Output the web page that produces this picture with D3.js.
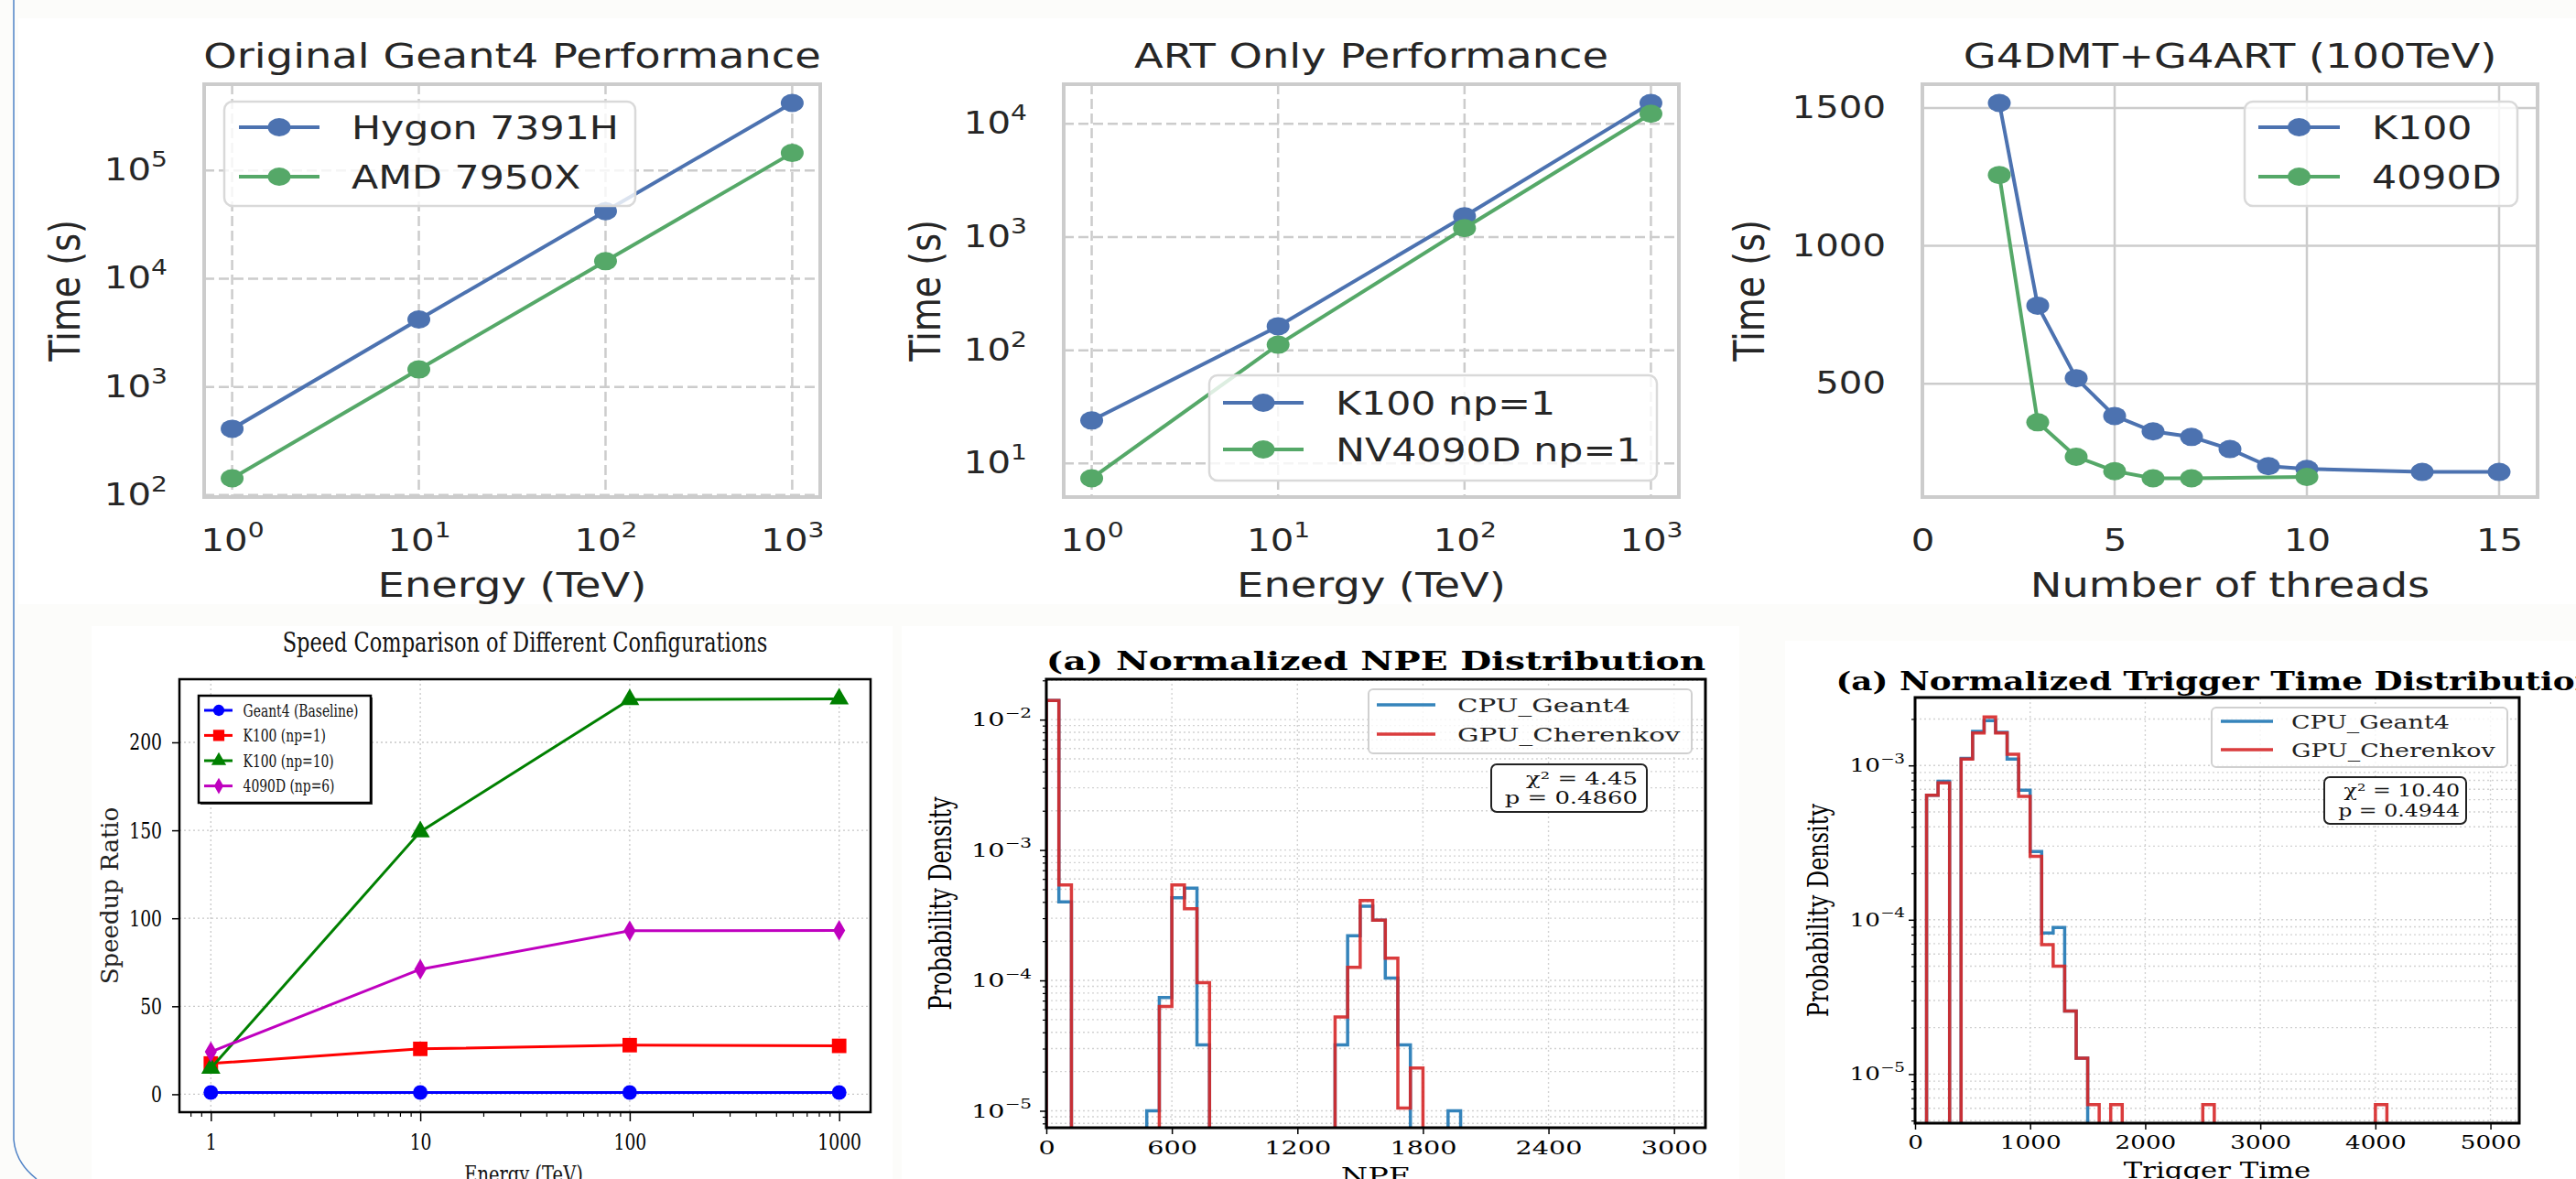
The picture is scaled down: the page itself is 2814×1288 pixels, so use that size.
<!DOCTYPE html>
<html>
<head>
<meta charset="utf-8">
<script src="https://cdn.jsdelivr.net/npm/d3@7"></script>
<style>
  body { margin: 0; background: #fcfcfa; }
  svg { display: block; }
</style>
</head>
<body>
<script>
// ---- data ----
// Original Geant4 Performance
var energyTeV = [1, 10, 100, 1000];
var hygonTime = [410, 4200, 42000, 420000];
var amdTime = [143, 1450, 14500, 145000];

// ART Only Performance
var k100Time = [24, 163, 1530, 15300];
var nv4090Time = [7.4, 112, 1200, 12300];

// G4DMT+G4ART (100TeV)
var k100Threads = [2, 3, 4, 5, 6, 7, 8, 9, 10, 13, 15];
var k100ThreadTime = [1518, 783, 520, 383, 327, 307, 263, 201, 191, 180, 180];
var gpu4090Threads = [2, 3, 4, 5, 6, 7, 10];
var gpu4090ThreadTime = [1257, 360, 235, 183, 157, 157, 162];

// Speed comparison
var speedBaseline = [1, 1, 1, 1];
var speedK100np1 = [17.5, 25.8, 27.9, 27.5];
var speedK100np10 = [14.8, 149.2, 224.3, 224.7];
var speed4090np6 = [24.1, 71, 92.9, 93.1];

// NPE histogram, bins of 60 starting at 0
var npeBinWidth = 60;
var npeCpu = [0.0140, 4.0e-4, 0, 0, 0, 0, 0, 0, 1.0e-5, 7.4e-5, 4.3e-4, 5.1e-4, 3.2e-5, 0, 0, 0, 0,
  0, 0, 0, 0, 0, 0, 3.2e-5, 2.2e-4, 3.7e-4, 2.9e-4, 1.04e-4, 3.2e-5, 0, 0, 0, 1.0e-5];
var npeGpu = [0.0140, 5.4e-4, 0, 0, 0, 0, 0, 0, 0, 6.3e-5, 5.4e-4, 3.55e-4, 9.6e-5, 0, 0, 0, 0,
  0, 0, 0, 0, 0, 0, 5.25e-5, 1.26e-4, 4.1e-4, 2.9e-4, 1.48e-4, 1.05e-5, 2.13e-5];

// Trigger time histogram, bins of 100 starting at 0
var trigBinWidth = 100;
var trigCpu = [0, 6.4e-4, 7.9e-4, 0, 1.11e-3, 1.66e-3, 1.95e-3, 1.64e-3, 1.10e-3, 6.9e-4, 2.77e-4,
  8.2e-5, 8.9e-5, 2.56e-5, 1.27e-5];
var trigGpu = [0, 6.4e-4, 7.7e-4, 0, 1.10e-3, 1.62e-3, 2.06e-3, 1.62e-3, 1.18e-3, 6.3e-4, 2.58e-4,
  6.9e-5, 5.0e-5, 2.56e-5, 1.27e-5, 6.35e-6, 0, 6.35e-6, 0, 0, 0, 0, 0, 0, 0, 6.35e-6,
  0, 0, 0, 0, 0, 0, 0, 0, 0, 0, 0, 0, 0, 0, 6.35e-6];

// tick values
var energyTicks = [1, 10, 100, 1000];
var g4TimeTicks = [100, 1000, 10000, 100000];
var artTimeTicks = [10, 100, 1000, 10000];
var threadTicks = [0, 5, 10, 15];
var threadTimeTicks = [500, 1000, 1500];
var speedTicks = [0, 50, 100, 150, 200];
var npeTicks = [0, 600, 1200, 1800, 2400, 3000];
var npeDensityTicks = [1e-5, 1e-4, 1e-3, 1e-2];
var trigTicks = [0, 1000, 2000, 3000, 4000, 5000];
var trigDensityTicks = [1e-5, 1e-4, 1e-3];

var SANS = "DejaVu Sans", SERIF = "DejaVu Serif";
var BLUE = "#4c72b0", GREEN = "#55a868";

var svg = d3.select("body").append("svg").attr("width", 2814).attr("height", 1288);

// page background and pasted figure areas
svg.append("rect").attr("width", 2814).attr("height", 1288).attr("fill", "#fcfcfa");
[[20, 20, 2794, 640], [100, 684, 875, 604], [985, 684, 915, 604], [1950, 700, 864, 588]].forEach(function(r) {
  svg.append("rect").attr("x", r[0]).attr("y", r[1]).attr("width", r[2]).attr("height", r[3]).attr("fill", "#ffffff");
});
svg.append("path").attr("d", "M15,0 L15,1245 Q17,1270 40,1288")
  .attr("fill", "none").attr("stroke", "#4f82c6").attr("stroke-width", 1.5);

// ---- helpers ----
function textAt(g, x, y, s, o) {
  var tr = "translate(" + x + "," + y + ") scale(" + (o.sx || 1) + ",1)" + (o.rotate ? " rotate(-90)" : "");
  return g.append("text").attr("transform", tr)
    .attr("text-anchor", o.anchor || "middle")
    .style("font-family", o.font).style("font-size", o.size + "px")
    .style("font-weight", o.bold ? "bold" : "normal")
    .attr("fill", o.color || "#262626")
    .text(s);
}

function powExp(d) {
  var e = Math.round(Math.log10(d));
  return e < 0 ? "\u2212" + (-e) : "" + e;
}

function styleTicks(axisG, o) {
  axisG.select(".domain").remove();
  axisG.selectAll(".tick line").attr("stroke", o.tickColor || "#000").attr("stroke-width", o.tickWidth || 1.5);
  axisG.selectAll(".tick text").each(function(d) {
    var t = d3.select(this);
    var xx = +t.attr("x") || 0;
    t.attr("x", 0).attr("transform", "translate(" + xx + ",0) scale(" + o.sx + ",1)")
      .style("font-family", o.font).style("font-size", o.size + "px").attr("fill", o.color);
    if (o.pow) {
      t.text(null);
      t.append("tspan").text("10");
      t.append("tspan").attr("dy", -0.46 * o.size).style("font-size", (0.7 * o.size) + "px").text(powExp(d));
    }
  });
}

function logPad(vals) {
  var e = d3.extent(vals).map(Math.log10), m = (e[1] - e[0]) * 0.05;
  return [Math.pow(10, e[0] - m), Math.pow(10, e[1] + m)];
}
function linPad(vals) {
  var e = d3.extent(vals), m = (e[1] - e[0]) * 0.05;
  return [e[0] - m, e[1] + m];
}

// ---- top row: seaborn style line charts ----
var SX_TOP = 1.22;

function drawTimePanel(p) {
  var g = svg.append("g");
  var x = p.x.range([p.left, p.right]);
  var y = p.y.range([p.bottom, p.top]);

  var grid = g.append("g").attr("stroke", "#cccccc").attr("stroke-width", 2.5)
    .attr("stroke-dasharray", p.dashed ? "11,5" : null);
  grid.selectAll(null).data(p.xTicks).enter().append("line")
    .attr("x1", d => x(d)).attr("x2", d => x(d)).attr("y1", p.top).attr("y2", p.bottom);
  grid.selectAll(null).data(p.yTicks).enter().append("line")
    .attr("y1", d => y(d)).attr("y2", d => y(d)).attr("x1", p.left).attr("x2", p.right);

  g.append("rect").attr("x", p.left).attr("y", p.top)
    .attr("width", p.right - p.left).attr("height", p.bottom - p.top)
    .attr("fill", "none").attr("stroke", "#cccccc").attr("stroke-width", 4);

  var ax = g.append("g").attr("transform", "translate(0," + p.bottom + ")")
    .call(d3.axisBottom(x).tickValues(p.xTicks).tickSize(0).tickPadding(36).tickFormat(d3.format("d")));
  styleTicks(ax, { font: SANS, size: 33, sx: SX_TOP, color: "#262626", pow: p.xPow });
  var ay = g.append("g").attr("transform", "translate(" + p.left + ",0)")
    .call(d3.axisLeft(y).tickValues(p.yTicks).tickSize(0).tickPadding(40).tickFormat(d3.format("d")));
  styleTicks(ay, { font: SANS, size: 33, sx: SX_TOP, color: "#262626", pow: p.yPow });

  p.series.forEach(function(s) {
    var line = d3.line().x((d, i) => x(s.xs[i])).y(d => y(d));
    g.append("path").datum(s.ys).attr("d", line)
      .attr("fill", "none").attr("stroke", s.color).attr("stroke-width", 4);
    g.selectAll(null).data(s.ys).enter().append("ellipse")
      .attr("cx", (d, i) => x(s.xs[i])).attr("cy", d => y(d))
      .attr("rx", 12.5).attr("ry", 10).attr("fill", s.color);
  });

  var L = p.legend;
  g.append("rect").attr("x", L.x0).attr("y", L.y0).attr("width", L.x1 - L.x0).attr("height", L.y1 - L.y0)
    .attr("rx", 9).attr("fill", "#ffffff").attr("fill-opacity", 0.8)
    .attr("stroke", "#d9d9d9").attr("stroke-width", 2.5);
  p.series.forEach(function(s, i) {
    var yy = L.rows[i];
    g.append("line").attr("x1", L.lx0).attr("x2", L.lx1).attr("y1", yy).attr("y2", yy)
      .attr("stroke", s.color).attr("stroke-width", 4);
    g.append("ellipse").attr("cx", (L.lx0 + L.lx1) / 2).attr("cy", yy).attr("rx", 12.5).attr("ry", 10).attr("fill", s.color);
    textAt(g, L.tx, yy + 12.8, s.name, { font: SANS, size: 35, sx: SX_TOP, anchor: "start" });
  });

  var cx = (p.left + p.right) / 2;
  textAt(g, cx, 74, p.title, { font: SANS, size: 38, sx: SX_TOP });
  textAt(g, cx, 652, p.xLabel, { font: SANS, size: 38, sx: SX_TOP });
  textAt(g, p.yLabelX, (p.top + p.bottom) / 2, "Time (s)", { font: SANS, size: 38, sx: SX_TOP, rotate: true });
}

drawTimePanel({
  left: 223, right: 896, top: 92, bottom: 543, dashed: true,
  x: d3.scaleLog().domain(logPad(energyTeV)), y: d3.scaleLog().domain(logPad(hygonTime.concat(amdTime))),
  xTicks: energyTicks, yTicks: g4TimeTicks, xPow: true, yPow: true,
  title: "Original Geant4 Performance", xLabel: "Energy (TeV)", yLabelX: 87,
  series: [
    { name: "Hygon 7391H", xs: energyTeV, ys: hygonTime, color: BLUE },
    { name: "AMD 7950X", xs: energyTeV, ys: amdTime, color: GREEN }
  ],
  legend: { x0: 245, x1: 694, y0: 111, y1: 225, rows: [139, 193], lx0: 261, lx1: 349, tx: 384 }
});

drawTimePanel({
  left: 1162, right: 1834, top: 92, bottom: 543, dashed: true,
  x: d3.scaleLog().domain(logPad(energyTeV)), y: d3.scaleLog().domain(logPad(k100Time.concat(nv4090Time))),
  xTicks: energyTicks, yTicks: artTimeTicks, xPow: true, yPow: true,
  title: "ART Only Performance", xLabel: "Energy (TeV)", yLabelX: 1027,
  series: [
    { name: "K100 np=1", xs: energyTeV, ys: k100Time, color: BLUE },
    { name: "NV4090D np=1", xs: energyTeV, ys: nv4090Time, color: GREEN }
  ],
  legend: { x0: 1321, x1: 1810, y0: 410, y1: 525, rows: [440, 491], lx0: 1336, lx1: 1424, tx: 1459 }
});

drawTimePanel({
  left: 2100, right: 2772, top: 92, bottom: 543, dashed: false,
  x: d3.scaleLinear().domain([0, 16]), y: d3.scaleLinear().domain(linPad(k100ThreadTime.concat(gpu4090ThreadTime))),
  xTicks: threadTicks, yTicks: threadTimeTicks, xPow: false, yPow: false,
  title: "G4DMT+G4ART (100TeV)", xLabel: "Number of threads", yLabelX: 1927,
  series: [
    { name: "K100", xs: k100Threads, ys: k100ThreadTime, color: BLUE },
    { name: "4090D", xs: gpu4090Threads, ys: gpu4090ThreadTime, color: GREEN }
  ],
  legend: { x0: 2452, x1: 2750, y0: 111, y1: 225, rows: [139, 193], lx0: 2467, lx1: 2556, tx: 2591 }
});

// ---- bottom left: speed comparison ----
(function() {
  var SX = 0.75;
  var left = 196, right = 951, top = 742, bottom = 1215;
  var g = svg.append("g");
  var x = d3.scaleLog().domain(logPad(energyTeV)).range([left, right]);
  var y = d3.scaleLinear().domain(linPad(speedBaseline.concat(speedK100np1, speedK100np10, speed4090np6))).range([bottom, top]);

  var grid = g.append("g").attr("stroke", "#c8c8c8").attr("stroke-width", 1.3).attr("stroke-dasharray", "2,3");
  grid.selectAll(null).data(energyTicks).enter().append("line")
    .attr("x1", d => x(d)).attr("x2", d => x(d)).attr("y1", top).attr("y2", bottom);
  grid.selectAll(null).data(speedTicks).enter().append("line")
    .attr("y1", d => y(d)).attr("y2", d => y(d)).attr("x1", left).attr("x2", right);

  var series = [
    { name: "Geant4 (Baseline)", vals: speedBaseline, color: "#0000ff", sym: d3.symbolCircle, size: 200 },
    { name: "K100 (np=1)", vals: speedK100np1, color: "#ff0000", sym: d3.symbolSquare, size: 250 },
    { name: "K100 (np=10)", vals: speedK100np10, color: "#008000", sym: d3.symbolTriangle, size: 190 },
    { name: "4090D (np=6)", vals: speed4090np6, color: "#bf00bf", sym: d3.symbolDiamond, size: 150 }
  ];
  series.forEach(function(s) {
    g.append("path").datum(s.vals)
      .attr("d", d3.line().x((d, i) => x(energyTeV[i])).y(d => y(d)))
      .attr("fill", "none").attr("stroke", s.color).attr("stroke-width", 3);
    g.selectAll(null).data(s.vals).enter().append("path")
      .attr("d", d3.symbol().type(s.sym).size(s.size))
      .attr("transform", (d, i) => "translate(" + x(energyTeV[i]) + "," + y(d) + ")")
      .attr("fill", s.color);
  });

  g.append("rect").attr("x", left).attr("y", top).attr("width", right - left).attr("height", bottom - top)
    .attr("fill", "none").attr("stroke", "#000").attr("stroke-width", 2.5);

  var ax = g.append("g").attr("transform", "translate(0," + bottom + ")")
    .call(d3.axisBottom(x).tickValues(energyTicks).tickSize(10).tickPadding(13.7).tickFormat(d3.format("d")));
  styleTicks(ax, { font: SERIF, size: 25, sx: SX, color: "#000" });
  var minor = x.ticks().filter(d => energyTicks.indexOf(d) < 0);
  var axm = g.append("g").attr("transform", "translate(0," + bottom + ")")
    .call(d3.axisBottom(x).tickValues(minor).tickSize(5).tickFormat(""));
  styleTicks(axm, { font: SERIF, size: 25, sx: SX, color: "#000", tickWidth: 1.2 });
  var ay = g.append("g").attr("transform", "translate(" + left + ",0)")
    .call(d3.axisLeft(y).tickValues(speedTicks).tickSize(8).tickPadding(11).tickFormat(d3.format("d")));
  styleTicks(ay, { font: SERIF, size: 25, sx: SX, color: "#000" });

  // legend
  var lx0 = 217, lx1 = 405, ly0 = 760, ly1 = 877, rows = [776, 803.4, 831, 858.6];
  g.append("rect").attr("x", lx0 + 2).attr("y", ly0 + 2).attr("width", lx1 - lx0).attr("height", ly1 - ly0).attr("fill", "#444");
  g.append("rect").attr("x", lx0).attr("y", ly0).attr("width", lx1 - lx0).attr("height", ly1 - ly0)
    .attr("fill", "#fff").attr("stroke", "#000").attr("stroke-width", 2.5);
  series.forEach(function(s, i) {
    g.append("line").attr("x1", 223).attr("x2", 254).attr("y1", rows[i]).attr("y2", rows[i])
      .attr("stroke", s.color).attr("stroke-width", 3);
    g.append("path").attr("d", d3.symbol().type(s.sym).size(s.size * 0.6))
      .attr("transform", "translate(239," + rows[i] + ")").attr("fill", s.color);
    textAt(g, 265.6, rows[i] + 6.7, s.name, { font: SERIF, size: 18.5, sx: SX, anchor: "start", color: "#111" });
  });

  textAt(g, (left + right) / 2, 712, "Speed Comparison of Different Configurations", { font: SERIF, size: 30, sx: SX, color: "#111" });
  textAt(g, 128.5, (top + bottom) / 2, "Speedup Ratio", { font: SERIF, size: 26, rotate: true, color: "#222" });
  textAt(g, 572, 1292, "Energy (TeV)", { font: SERIF, size: 26, sx: SX, color: "#111" });
})();

// ---- bottom middle / right: normalized histograms ----
function drawHistPanel(p) {
  var g = svg.append("g");
  var x = d3.scaleLinear().domain(p.xDomain).range([p.left, p.right]);
  var y = d3.scaleLog().domain(p.yDomain).range([p.bottom, p.top]);
  var clipId = p.id + "-clip";
  g.append("clipPath").attr("id", clipId).append("rect")
    .attr("x", p.left).attr("y", p.top).attr("width", p.right - p.left).attr("height", p.bottom - p.top);

  var grid = g.append("g").attr("stroke", "#d2d2d2").attr("stroke-width", 1.4).attr("stroke-dasharray", "2,3");
  grid.selectAll(null).data(p.xTicks).enter().append("line")
    .attr("x1", d => x(d)).attr("x2", d => x(d)).attr("y1", p.top).attr("y2", p.bottom);
  grid.selectAll(null).data(y.ticks()).enter().append("line")
    .attr("y1", d => y(d)).attr("y2", d => y(d)).attr("x1", p.left).attr("x2", p.right);

  p.series.forEach(function(s) {
    var ybot = p.bottom + 10;
    var pts = [[x(0), ybot]];
    s.vals.forEach(function(v, i) {
      var yy = v > 0 ? y(v) : ybot;
      pts.push([x(i * p.binWidth), yy], [x((i + 1) * p.binWidth), yy]);
    });
    pts.push([x(s.vals.length * p.binWidth), ybot]);
    g.append("path").attr("d", d3.line()(pts)).attr("clip-path", "url(#" + clipId + ")")
      .attr("fill", "none").attr("stroke", s.color).attr("stroke-opacity", 0.9).attr("stroke-width", 3.5);
  });

  g.append("rect").attr("x", p.left).attr("y", p.top).attr("width", p.right - p.left).attr("height", p.bottom - p.top)
    .attr("fill", "none").attr("stroke", "#000").attr("stroke-width", 3);

  var ax = g.append("g").attr("transform", "translate(0," + p.bottom + ")")
    .call(d3.axisBottom(x).tickValues(p.xTicks).tickSize(7).tickPadding(p.xPad).tickFormat(d3.format("d")));
  styleTicks(ax, { font: SERIF, size: 20.5, sx: p.sx, color: "#000" });
  var ay = g.append("g").attr("transform", "translate(" + p.left + ",0)")
    .call(d3.axisLeft(y).tickValues(p.yTicks).tickSize(7).tickPadding(p.yPad));
  styleTicks(ay, { font: SERIF, size: 20.5, sx: p.sx, color: "#000", pow: true });
  var minor = y.ticks().filter(d => p.yTicks.indexOf(d) < 0);
  var aym = g.append("g").attr("transform", "translate(" + p.left + ",0)")
    .call(d3.axisLeft(y).tickValues(minor).tickSize(4).tickFormat(""));
  styleTicks(aym, { font: SERIF, size: 20.5, sx: p.sx, color: "#000", tickWidth: 1.2 });

  var L = p.legend;
  g.append("rect").attr("x", L.x0).attr("y", L.y0).attr("width", L.x1 - L.x0).attr("height", L.y1 - L.y0)
    .attr("rx", 5).attr("fill", "#fff").attr("fill-opacity", 0.8).attr("stroke", "#d0d0d0").attr("stroke-width", 2);
  p.series.forEach(function(s, i) {
    g.append("line").attr("x1", L.lx0).attr("x2", L.lx1).attr("y1", L.rows[i]).attr("y2", L.rows[i])
      .attr("stroke", s.color).attr("stroke-opacity", 0.9).attr("stroke-width", 3.5);
    textAt(g, L.tx, L.rows[i] + 7.7, s.name, { font: SERIF, size: 21, sx: p.sx, anchor: "start", color: "#222" });
  });

  var S = p.stats;
  g.append("rect").attr("x", S.x0).attr("y", S.y0).attr("width", S.x1 - S.x0).attr("height", S.y1 - S.y0)
    .attr("rx", 6).attr("fill", "#fff").attr("stroke", "#222").attr("stroke-width", 2);
  S.lines.forEach(function(t, i) {
    textAt(g, S.tx, S.rows[i], t, { font: SERIF, size: 18.5, sx: p.sx, anchor: "end", color: "#111" });
  });

  var cx = (p.left + p.right) / 2;
  textAt(g, cx, p.titleY, p.title, { font: SERIF, size: 28, sx: p.sx, bold: true, color: "#000" });
  textAt(g, cx, p.xLabelY, p.xLabel, { font: SERIF, size: 24, sx: p.sx, color: "#000" });
  textAt(g, p.yLabelX, (p.top + p.bottom) / 2, "Probability Density", { font: SERIF, size: 24, sx: p.sx, rotate: true, color: "#000" });
}

var CPU_BLUE = "#1f77b4", GPU_RED = "#d62728";

drawHistPanel({
  id: "npe", left: 1143, right: 1863, top: 742, bottom: 1232, sx: 1.4,
  xDomain: [0, 3150], yDomain: [Math.pow(10, -5.13), Math.pow(10, -1.69)],
  xTicks: npeTicks, yTicks: npeDensityTicks, xPad: 7.7, yPad: 9, binWidth: npeBinWidth,
  series: [{ name: "CPU_Geant4", vals: npeCpu, color: CPU_BLUE }, { name: "GPU_Cherenkov", vals: npeGpu, color: GPU_RED }],
  legend: { x0: 1495, x1: 1848, y0: 753, y1: 823, rows: [770, 802], lx0: 1504, lx1: 1568, tx: 1592 },
  stats: { x0: 1629, x1: 1799, y0: 835, y1: 887, tx: 1789, rows: [856.5, 877.5], lines: ["\u03c7\u00b2 = 4.45", "p = 0.4860"] },
  title: "(a) Normalized NPE Distribution", titleY: 732, xLabel: "NPE", xLabelY: 1293, yLabelX: 1039
});

drawHistPanel({
  id: "trig", left: 2092, right: 2752, top: 762, bottom: 1227, sx: 1.28,
  xDomain: [0, 5250], yDomain: [Math.pow(10, -5.318), Math.pow(10, -2.56)],
  xTicks: trigTicks, yTicks: trigDensityTicks, xPad: 6.7, yPad: 4, binWidth: trigBinWidth,
  series: [{ name: "CPU_Geant4", vals: trigCpu, color: CPU_BLUE }, { name: "GPU_Cherenkov", vals: trigGpu, color: GPU_RED }],
  legend: { x0: 2416, x1: 2739, y0: 773, y1: 838, rows: [788, 819], lx0: 2426, lx1: 2483, tx: 2503 },
  stats: { x0: 2539, x1: 2694, y0: 849, y1: 900, tx: 2687, rows: [870, 892], lines: ["\u03c7\u00b2 = 10.40", "p = 0.4944"] },
  title: "(a) Normalized Trigger Time Distribution", titleY: 754, xLabel: "Trigger Time", xLabelY: 1287, yLabelX: 1997
});
</script>
</body>
</html>
